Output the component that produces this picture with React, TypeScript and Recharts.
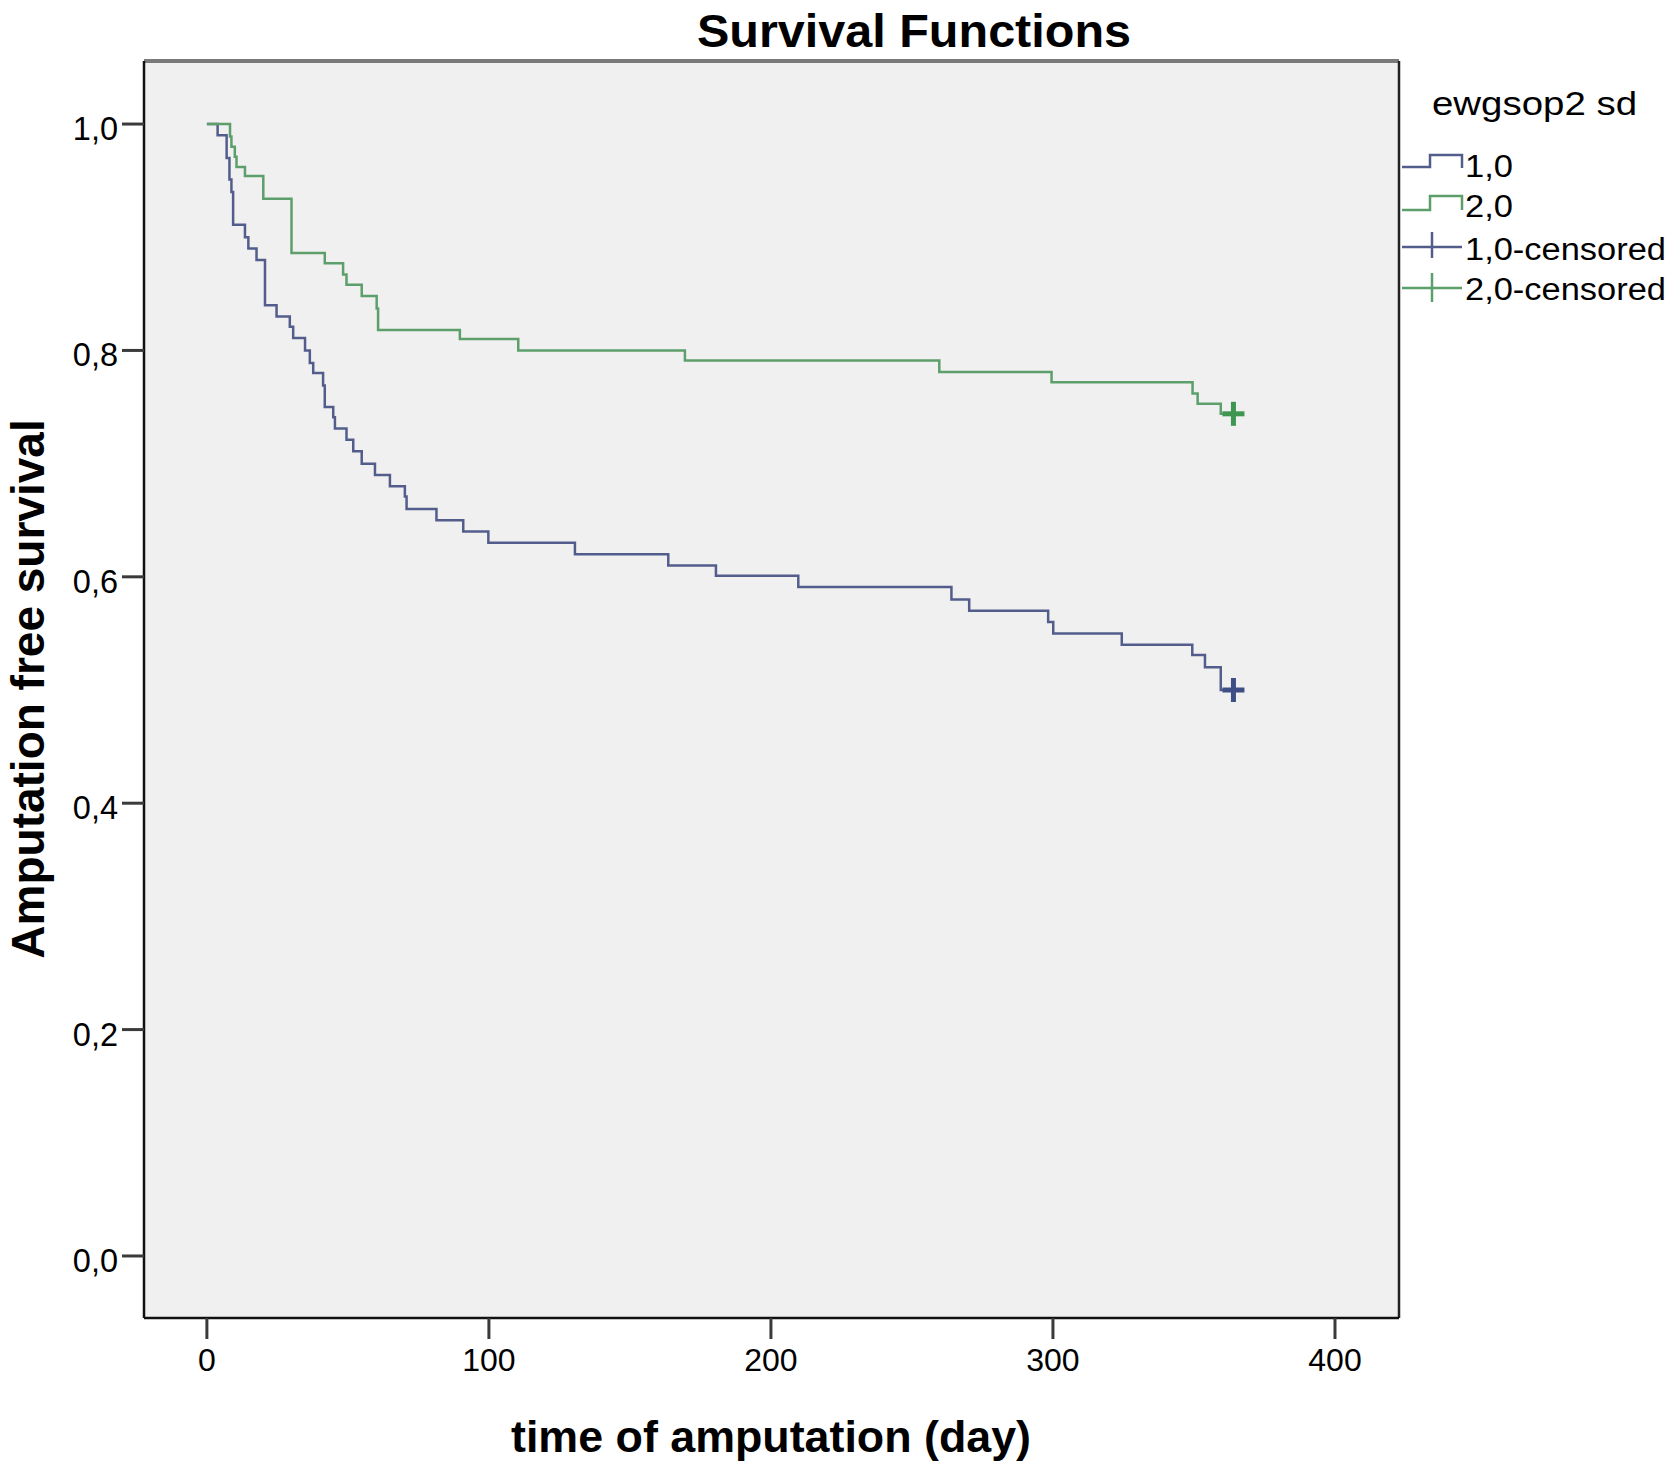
import React from 'react';
import {
  ComposedChart,
  Line,
  Scatter,
  XAxis,
  YAxis,
  CartesianGrid,
  ReferenceLine,
  Legend,
} from 'recharts';

// ---- Data ----
const blueTimes = [0, 3.8, 7.0, 8.0, 8.7, 9.3, 13.5, 14.7, 17.6, 20.6, 24.7, 29.4, 30.6, 34.8, 36.5, 37.7, 41.2, 41.8, 44.8, 45.4, 49.5, 51.9, 54.9, 59.6, 64.9, 70.2, 70.8, 81.4, 90.9, 99.8, 130.5, 163.6, 180.5, 209.7, 264, 270.3, 298.3, 300.1, 324.4, 349.4, 353.9, 359.5, 364];
const blueSurvival = [1.0, 0.99, 0.97, 0.951, 0.94, 0.911, 0.9, 0.89, 0.88, 0.84, 0.83, 0.821, 0.811, 0.8, 0.789, 0.78, 0.769, 0.75, 0.741, 0.731, 0.721, 0.711, 0.7, 0.69, 0.68, 0.671, 0.66, 0.65, 0.64, 0.63, 0.62, 0.61, 0.601, 0.591, 0.58, 0.57, 0.56, 0.55, 0.54, 0.531, 0.52, 0.5, 0.5];

const greenTimes = [0, 8.2, 8.7, 9.9, 10.5, 13.5, 20, 30, 41.8, 48.3, 49.5, 54.9, 60.2, 60.7, 89.7, 110.4, 169.5, 259.7, 299.5, 349.5, 351.3, 359.5, 364];
const greenSurvival = [1.0, 0.989, 0.98, 0.971, 0.962, 0.954, 0.934, 0.886, 0.877, 0.867, 0.858, 0.848, 0.837, 0.818, 0.81, 0.8, 0.791, 0.781, 0.772, 0.762, 0.753, 0.744, 0.744];

const blueCensoredTimes = [364];
const blueCensoredSurvival = [0.5];
const greenCensoredTimes = [364];
const greenCensoredSurvival = [0.744];

const xTicks = [0, 100, 200, 300, 400];
const yTicks = [0, 0.2, 0.4, 0.6, 0.8, 1.0];
const legendTitle = 'ewgsop2 sd';
const legendLabels = ['1,0', '2,0', '1,0-censored', '2,0-censored'];
const chartTitle = 'Survival Functions';
const xAxisTitle = 'time of amputation (day)';
const yAxisTitle = 'Amputation free survival';

// ---- Styling / layout ----
const W = 1675;
const H = 1466;
const X_DOMAIN: [number, number] = [-22.3, 422.7];
const Y_DOMAIN: [number, number] = [-0.0548, 1.0557];
const BLUE = '#535d8c';
const GREEN = '#5c9f6b';
const BLUE_MARK = '#3d4f85';
const GREEN_MARK = '#3f9650';
const FONT = '"Liberation Sans", Arial, Helvetica, sans-serif';

const zip = (ts: number[], ss: number[]) => ts.map((t, i) => ({ t, s: ss[i] }));
const blueData = zip(blueTimes, blueSurvival);
const greenData = zip(greenTimes, greenSurvival);
const blueCens = zip(blueCensoredTimes, blueCensoredSurvival);
const greenCens = zip(greenCensoredTimes, greenCensoredSurvival);

const fmt = (v: number) => v.toFixed(1).replace('.', ',');

const YTick = (props: any) => {
  const { x, y, payload } = props;
  return (
    <text x={x} y={y + 5} textAnchor="end" dominantBaseline="central" fontFamily={FONT} fontSize={32.5} fill="#000">
      {fmt(payload.value)}
    </text>
  );
};

const XTick = (props: any) => {
  const { x, y, payload } = props;
  return (
    <text x={x} y={y} dy="0.71em" textAnchor="middle" fontFamily={FONT} fontSize={32} fill="#000">
      {payload.value}
    </text>
  );
};

const makePlus = (color: string) => (props: any) => {
  const { cx, cy } = props;
  if (cx == null || cy == null) return <g />;
  return (
    <g>
      <line x1={cx - 11} y1={cy} x2={cx + 11} y2={cy} stroke={color} strokeWidth={5} />
      <line x1={cx} y1={cy - 12} x2={cx} y2={cy + 12} stroke={color} strokeWidth={5} />
    </g>
  );
};

const LegendContent = () => (
  <svg width={280} height={260} style={{ overflow: 'visible', display: 'block' }}>
    <text x={37} y={55} fontFamily={FONT} fontSize={33} fill="#000" textLength={205} lengthAdjust="spacingAndGlyphs">{legendTitle}</text>
    {/* 1,0 */}
    <path d="M7,107 H35 V95 H67 V108" fill="none" stroke={BLUE} strokeWidth={2.5} />
    <text x={70} y={117} fontFamily={FONT} fontSize={31} fill="#000" textLength={48} lengthAdjust="spacingAndGlyphs">{legendLabels[0]}</text>
    {/* 2,0 */}
    <path d="M7,150 H35 V136 H67 V150" fill="none" stroke={GREEN} strokeWidth={2.5} />
    <text x={70} y={157} fontFamily={FONT} fontSize={31} fill="#000" textLength={48} lengthAdjust="spacingAndGlyphs">{legendLabels[1]}</text>
    {/* 1,0-censored */}
    <line x1={7} y1={187} x2={67} y2={187} stroke={BLUE} strokeWidth={2.5} />
    <line x1={37} y1={172} x2={37} y2={198} stroke={BLUE} strokeWidth={2.5} />
    <text x={70} y={200} fontFamily={FONT} fontSize={31} fill="#000" textLength={201} lengthAdjust="spacingAndGlyphs">{legendLabels[2]}</text>
    {/* 2,0-censored */}
    <line x1={7} y1={228} x2={67} y2={228} stroke={GREEN} strokeWidth={2.5} />
    <line x1={37} y1={213} x2={37} y2={242} stroke={GREEN} strokeWidth={2.5} />
    <text x={70} y={240} fontFamily={FONT} fontSize={31} fill="#000" textLength={201} lengthAdjust="spacingAndGlyphs">{legendLabels[3]}</text>
  </svg>
);

export default function App() {
  return (
    <div style={{ position: 'absolute', left: 0, top: 0, width: W, height: H, background: '#fff' }}>
      <ComposedChart
        width={W}
        height={H}
        margin={{ top: 61, right: 276, bottom: 68, left: 44 }}
        style={{ fontFamily: FONT }}
      >
        <CartesianGrid fill="#f0f0f0" horizontal={false} vertical={false} />
        <XAxis
          dataKey="t"
          type="number"
          domain={X_DOMAIN}
          allowDataOverflow
          ticks={xTicks}
          interval={0}
          height={80}
          tickSize={21}
          tickMargin={9}
          axisLine={{ stroke: '#111', strokeWidth: 2.5 }}
          tickLine={{ stroke: '#3a3a3a', strokeWidth: 3 }}
          tick={<XTick />}
        />
        <YAxis
          dataKey="s"
          type="number"
          domain={Y_DOMAIN}
          allowDataOverflow
          ticks={yTicks}
          interval={0}
          width={100}
          tickSize={22}
          tickMargin={4}
          axisLine={{ stroke: '#111', strokeWidth: 2.5 }}
          tickLine={{ stroke: '#3a3a3a', strokeWidth: 3 }}
          tick={<YTick />}
        />
        <ReferenceLine y={Y_DOMAIN[1]} stroke="#7a7a7a" strokeWidth={4} />
        <ReferenceLine x={X_DOMAIN[1]} stroke="#222" strokeWidth={2.5} />
        <Line
          data={blueData}
          dataKey="s"
          type="stepAfter"
          stroke={BLUE}
          strokeWidth={2.5}
          dot={false}
          activeDot={false}
          isAnimationActive={false}
          legendType="none"
        />
        <Line
          data={greenData}
          dataKey="s"
          type="stepAfter"
          stroke={GREEN}
          strokeWidth={2.5}
          dot={false}
          activeDot={false}
          isAnimationActive={false}
          legendType="none"
        />
        <Scatter data={blueCens} dataKey="s" shape={makePlus(BLUE_MARK)} isAnimationActive={false} legendType="none" />
        <Scatter data={greenCens} dataKey="s" shape={makePlus(GREEN_MARK)} isAnimationActive={false} legendType="none" />
        <Legend
          layout="vertical"
          align="center"
          verticalAlign="middle"
          content={<LegendContent />}
          wrapperStyle={{ left: 1395, top: 60, width: 280, height: 260 }}
        />
      </ComposedChart>
      <svg
        width={W}
        height={H}
        style={{ position: 'absolute', left: 0, top: 0, pointerEvents: 'none' }}
      >
        <text x={914} y={47} textAnchor="middle" fontFamily={FONT} fontWeight="bold" fontSize={47} fill="#000" textLength={434} lengthAdjust="spacingAndGlyphs">
          {chartTitle}
        </text>
        <text x={771} y={1452} textAnchor="middle" fontFamily={FONT} fontWeight="bold" fontSize={44} fill="#000" textLength={520} lengthAdjust="spacingAndGlyphs">
          {xAxisTitle}
        </text>
        <text
          x={0}
          y={0}
          transform="translate(44,689) rotate(-90)"
          textAnchor="middle"
          fontFamily={FONT}
          fontWeight="bold"
          fontSize={46}
          fill="#000"
        >
          {yAxisTitle}
        </text>
      </svg>
    </div>
  );
}
